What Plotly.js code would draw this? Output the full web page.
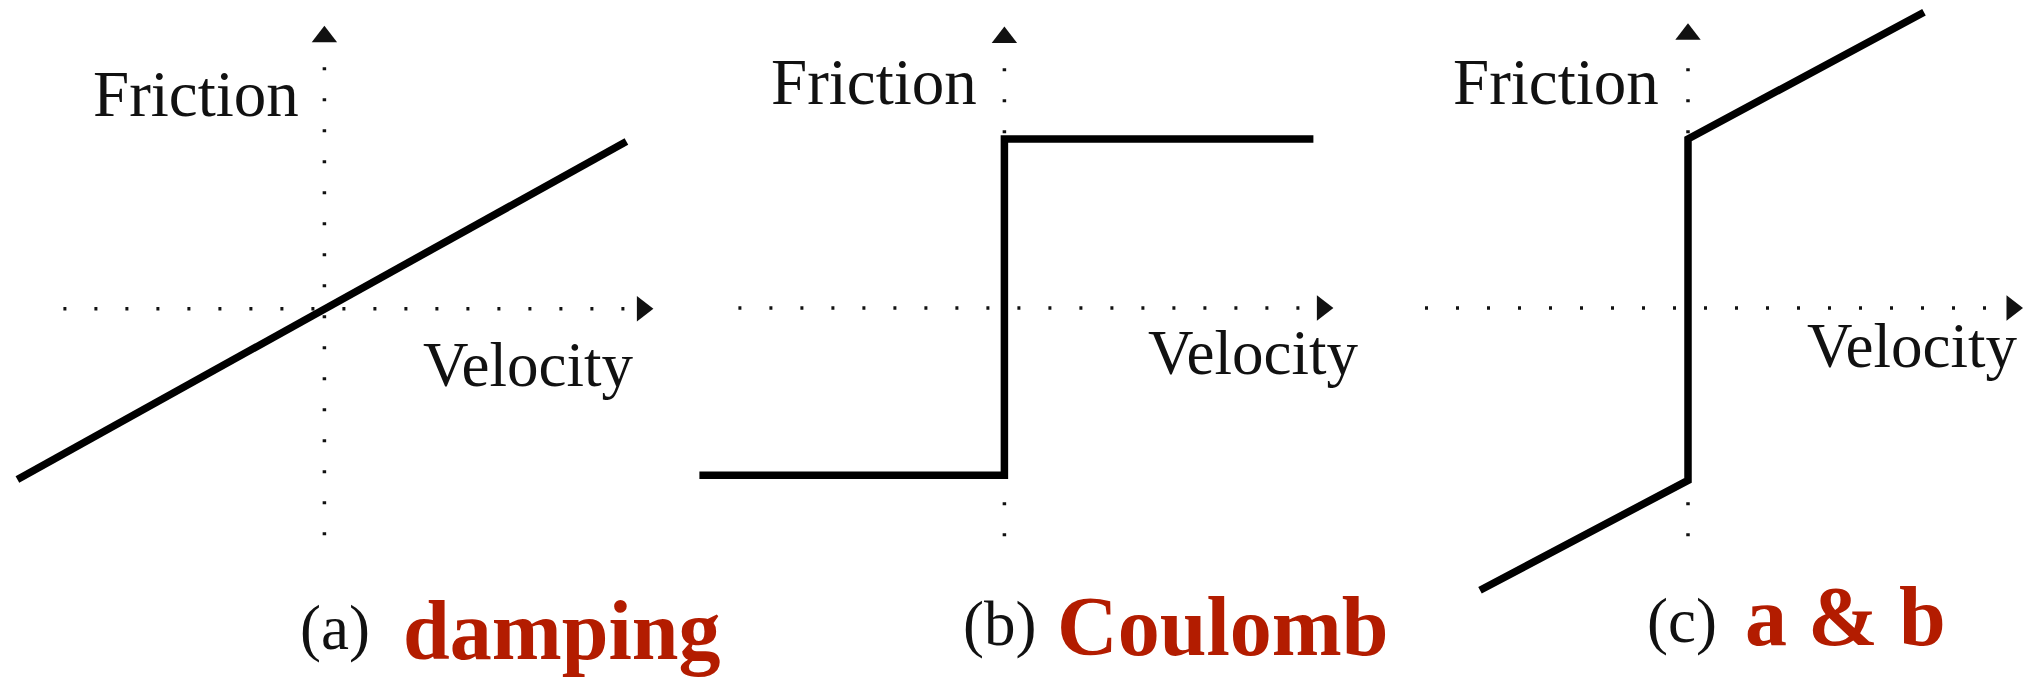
<!DOCTYPE html>
<html><head><meta charset="utf-8">
<script src="https://cdn.plot.ly/plotly-3.0.1.min.js"></script>
<style>html,body{margin:0;padding:0;background:#fff;overflow:hidden;} #chart{width:2028px;height:678px;}</style>
</head><body><div id="chart"></div>
<script>
// ---------------- data ----------------
const captionTags  = ['(a)', '(b)', '(c)'];
const captionNames = ['damping', 'Coulomb', 'a & b'];
const axisNameX = 'Velocity';
const axisNameY = 'Friction';

// (a) viscous damping: friction proportional to velocity
const dampingVelocity = [-3.07, 3.02];
const dampingFriction = [-1.01, 0.99];
// (b) Coulomb: constant friction level, sign of velocity
const coulombVelocity = [-3.05, 0, 0, 3.09];
const coulombFriction = [-0.99, -0.99, 1.00, 1.00];
// (c) Coulomb + damping
const combinedVelocity = [-2.08, 0, 0, 2.36];
const combinedFriction = [-1.67, -1.02, 1.00, 1.75];

// dotted axes extents (data units) and arrow tips
const velAxisMin  = [-2.61, -2.66, -2.63];
const velAxisMax  = [3.03, 3.04, 3.10];
const velArrow    = [3.18, 3.18, 3.24];
const fricAxisMin = [-1.34, -1.35, -1.35];
const fricAxisMax = [1.52, 1.52, 1.52];
const fricArrow   = [1.61, 1.60, 1.62];

// ---------------- layout geometry (pixels) ----------------
const W = 2028, H = 678;
const SX = 100, SY = 169;                 // px per unit
const origins = [[324.4, 308.8], [1004.4, 308], [1688, 308]];
const domainsPx = [[0, 680], [680, 1360], [1360, 2028]];

const curves = [
  [dampingVelocity, dampingFriction],
  [coulombVelocity, coulombFriction],
  [combinedVelocity, combinedFriction]
];

const serif = 'Liberation Serif, Times New Roman, serif';
const red = '#b31c00';
const ink = '#111111';

const traces = [];
const layout = {
  width: W, height: H,
  margin: {l: 0, r: 0, t: 0, b: 0},
  paper_bgcolor: '#ffffff', plot_bgcolor: 'rgba(0,0,0,0)',
  showlegend: false,
  annotations: []
};

function px2paperX(px) { return px / W; }
function px2paperY(py) { return 1 - py / H; }

for (let i = 0; i < 3; i++) {
  const sfx = i === 0 ? '' : String(i + 1);
  const xa = 'x' + sfx, ya = 'y' + sfx;
  const [ox, oy] = origins[i];
  const [d0, d1] = domainsPx[i];
  const axCommon = {showgrid: false, zeroline: false, showticklabels: false, showline: false, ticks: '', fixedrange: true};
  layout['xaxis' + sfx] = Object.assign({}, axCommon, {
    domain: [d0 / W, d1 / W],
    range: [(d0 - ox) / SX, (d1 - ox) / SX],
    anchor: ya
  });
  layout['yaxis' + sfx] = Object.assign({}, axCommon, {
    domain: [0, 1],
    range: [-(H - oy) / SY, oy / SY],
    anchor: xa
  });

  // dotted velocity axis
  traces.push({x: [velAxisMin[i], velAxisMax[i]], y: [0, 0], xaxis: xa, yaxis: ya,
    mode: 'lines', line: {color: ink, width: 3.5, dash: '3px,28px'}, hoverinfo: 'skip'});
  // dotted friction axis
  traces.push({x: [0, 0], y: [fricAxisMin[i], fricAxisMax[i]], xaxis: xa, yaxis: ya,
    mode: 'lines', line: {color: ink, width: 3.5, dash: '3px,28px'}, hoverinfo: 'skip'});
  // arrow heads
  traces.push({x: [velArrow[i]], y: [0], xaxis: xa, yaxis: ya, mode: 'markers',
    marker: {symbol: 'triangle-right', size: 22, color: ink}, hoverinfo: 'skip', cliponaxis: false});
  traces.push({x: [0], y: [fricArrow[i]], xaxis: xa, yaxis: ya, mode: 'markers',
    marker: {symbol: 'triangle-up', size: 22, color: ink}, hoverinfo: 'skip', cliponaxis: false});
  // friction curve
  traces.push({x: curves[i][0], y: curves[i][1], xaxis: xa, yaxis: ya, mode: 'lines',
    line: {color: '#000000', width: 7.5, shape: 'linear'}, hoverinfo: 'skip'});
}

// ---------------- text labels ----------------
function addText(text, leftPx, baselinePx, size, color, bold) {
  layout.annotations.push({
    text: bold ? '<b>' + text + '</b>' : text,
    xref: 'paper', yref: 'paper',
    x: px2paperX(leftPx), y: px2paperY(baselinePx - 0.3375 * size),
    xanchor: 'left', yanchor: 'middle', showarrow: false,
    font: {family: serif, size: size, color: color}
  });
}
const frictionPos = [[91, 116], [769, 104], [1451, 104]];
const velocityPos = [[421, 386], [1146, 374], [1805, 367.5]];
const tagPos  = [[298, 649], [961, 645], [1645, 642]];
const namePos = [[401, 659], [1055, 655], [1743, 645]];
for (let i = 0; i < 3; i++) {
  addText(axisNameY, frictionPos[i][0], frictionPos[i][1], 65, ink, false);
  addText(axisNameX, velocityPos[i][0], velocityPos[i][1], 63, ink, false);
  addText(captionTags[i], tagPos[i][0], tagPos[i][1], 63, ink, false);
  addText(captionNames[i], namePos[i][0], namePos[i][1], 84, red, true);
}

Plotly.newPlot('chart', traces, layout, {staticPlot: true, displayModeBar: false});
</script>
</body></html>
